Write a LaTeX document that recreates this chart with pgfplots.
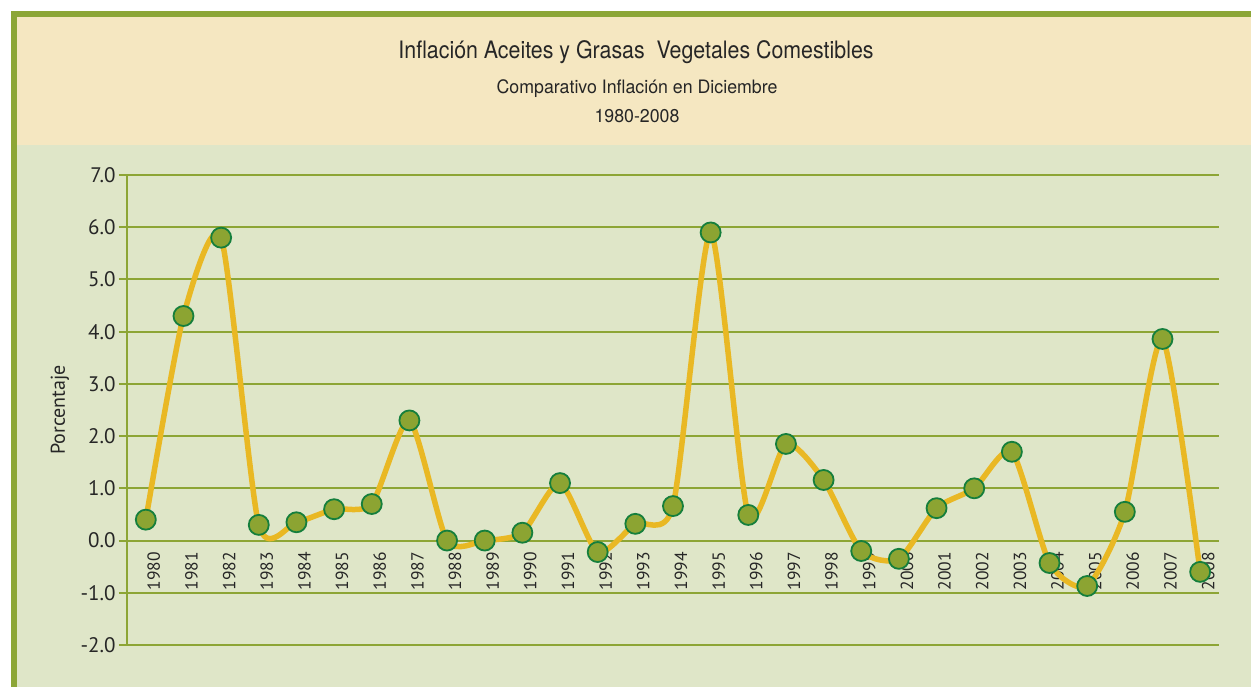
\documentclass[border=0pt]{standalone}
\usepackage{fontspec}
\setmainfont{PT Sans}
\newfontfamily\condfont[FakeStretch=0.89]{TeX Gyre Heros}
\newfontfamily\subfont[FakeStretch=0.96]{TeX Gyre Heros}
\usepackage{pgfplots}
\pgfplotsset{compat=1.18}
\definecolor{borderg}{RGB}{140,166,55}
\definecolor{beige}{RGB}{245,231,193}
\definecolor{bgg}{RGB}{223,230,200}
\definecolor{gridg}{RGB}{141,165,53}
\definecolor{liney}{RGB}{233,184,36}
\definecolor{markf}{RGB}{140,164,50}
\definecolor{marke}{RGB}{21,127,60}
\begin{document}
\begin{tikzpicture}[x=1pt,y=1pt]
\fill[white] (0,0) rectangle (1251,687);
\fill[borderg] (11,0) rectangle (1251,676);
\fill[beige] (17,542) rectangle (1251,670);
\fill[bgg] (17,0) rectangle (1251,542);
\node[font=\condfont\fontsize{24}{28}\selectfont, text=black!85] at (636,635) {Inflación Aceites y Grasas\ \ Vegetales Comestibles};
\node[font=\subfont\fontsize{18.5}{20}\selectfont, text=black!85] at (637,598) {Comparativo Inflación en Diciembre};
\node[font=\subfont\fontsize{18.5}{20}\selectfont, text=black!85] at (637,571) {1980-2008};
\begin{axis}[
  at={(127pt,42pt)}, anchor=south west,
  width=1092pt, height=470pt, scale only axis,
  xmin=-0.5, xmax=28.5, ymin=-2, ymax=7,
  axis x line=middle, axis y line=left,
  axis line style={-, gridg, line width=1.6pt},
  hide obscured y ticks=false, hide obscured x ticks=false,
  ytick={-2,-1,...,7},
  ymajorgrids, grid style={gridg, line width=2pt},
  yticklabel style={font=\fontsize{21}{24}\selectfont, text=black!85, /pgf/number format/fixed, /pgf/number format/precision=1, /pgf/number format/fixed zerofill},
  /pgf/number format/assume math mode=true,
  y tick style={gridg, line width=2pt},
  major tick length=8pt, tick align=outside,
  xtick={0,...,28},
  xticklabels={1980,1981,1982,1983,1984,1985,1986,1987,1988,1989,1990,1991,1992,1993,1994,1995,1996,1997,1998,1999,2000,2001,2002,2003,2004,2005,2006,2007,2008},
  x tick style={draw=none},
  xticklabel style={font=\fontsize{17.5}{22}\selectfont, text=black!85, rotate=90, anchor=east, yshift=-8pt},
  extra x ticks={0.5,1.5,...,28.5},
  extra x tick labels={},
  extra x tick style={tick style={draw=gridg, line width=2pt}, major tick length=12pt, tick align=center},
  ylabel={Porcentaje},
  every axis y label/.style={at={(axis description cs:0,0.5)}, xshift=-67pt, rotate=90, anchor=center, font=\fontsize{20}{24}\selectfont, text=black!85},
  clip=false,
]
\addplot[liney, line width=5.5pt, smooth, tension=0.4, no markers] coordinates {
(0,0.4) (1,4.3) (2,5.8) (3,0.3) (4,0.35) (5,0.6) (6,0.7) (7,2.3) (8,0.0) (9,0.0)
(10,0.15) (11,1.1) (12,-0.22) (13,0.32) (14,0.66) (15,5.9) (16,0.49) (17,1.85) (18,1.16) (19,-0.2)
(20,-0.35) (21,0.62) (22,1.0) (23,1.7) (24,-0.43) (25,-0.87) (26,0.55) (27,3.86) (28,-0.6)
};
\addplot[only marks, mark=*, mark size=10pt, mark options={fill=markf, draw=marke, line width=1.8pt}] coordinates {
(0,0.4) (1,4.3) (2,5.8) (3,0.3) (4,0.35) (5,0.6) (6,0.7) (7,2.3) (8,0.0) (9,0.0)
(10,0.15) (11,1.1) (12,-0.22) (13,0.32) (14,0.66) (15,5.9) (16,0.49) (17,1.85) (18,1.16) (19,-0.2)
(20,-0.35) (21,0.62) (22,1.0) (23,1.7) (24,-0.43) (25,-0.87) (26,0.55) (27,3.86) (28,-0.6)
};
\end{axis}
\end{tikzpicture}
\end{document}
